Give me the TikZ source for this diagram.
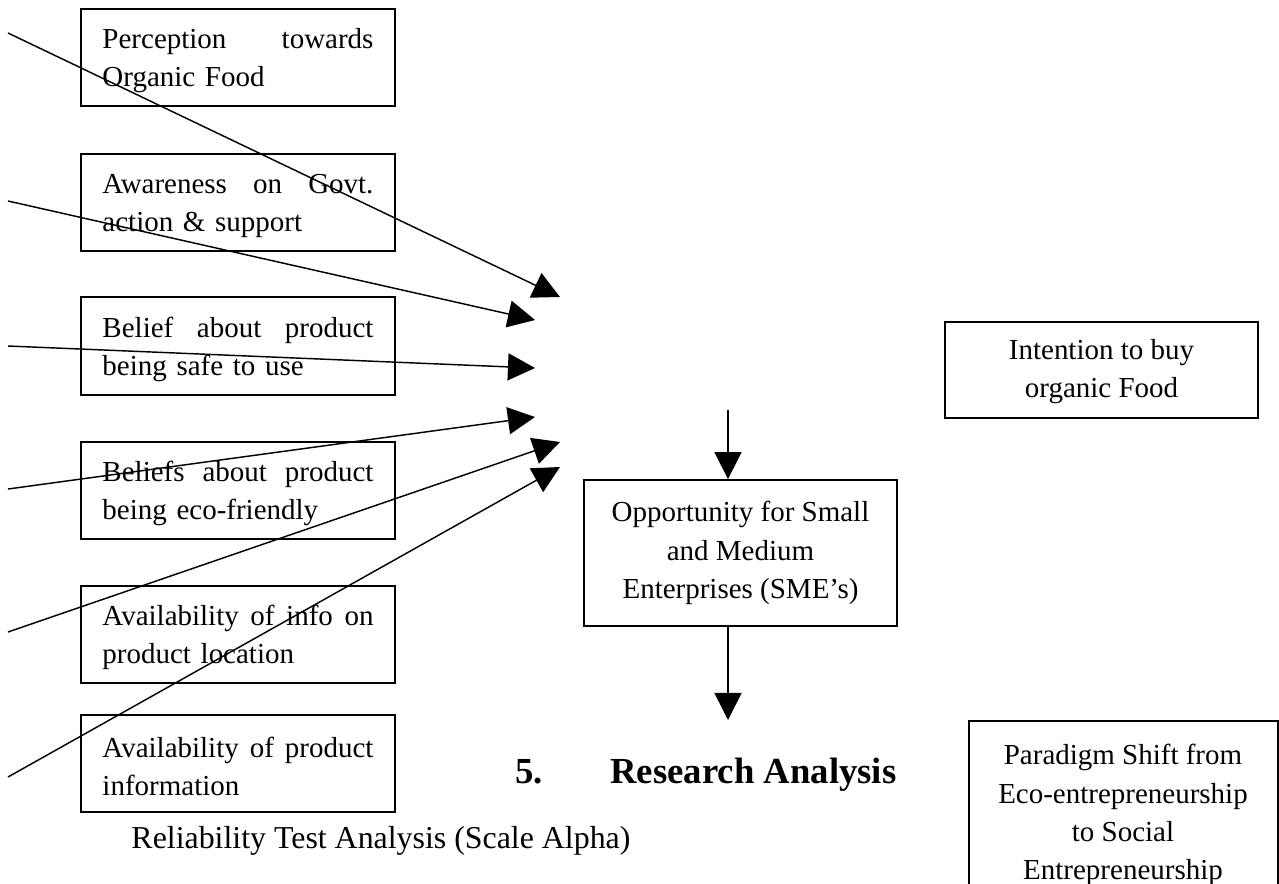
\documentclass[tikz,border=0pt]{standalone}
\usepackage{fontspec}
\setmainfont{Liberation Serif}
\usetikzlibrary{arrows.meta}
\newlength\lboxw \setlength\lboxw{112.2pt}
\newcommand\jl[1]{\hbox to \lboxw{\spaceskip=0.25em plus 1fil\relax #1}}
\begin{document}
\begin{tikzpicture}[x=0.414pt,y=-0.414pt,
  box/.style={draw,line width=0.8pt,inner sep=0pt},
  body/.style={font=\fontsize{12}{15.8}\selectfont},
  lbox/.style={box,body,minimum width=130pt,minimum height=40.2pt,text width=\lboxw,align=left},
  cbox/.style={box,body,minimum width=129.6pt,align=center},
  arr/.style={line width=0.6pt,-{Triangle[length=11.2pt,width=11.2pt]}},
  head/.style={font=\fontsize{15.2}{18}\selectfont\bfseries,inner sep=0pt}
]
\useasboundingbox (0,0) rectangle (1279,883);

% left boxes
\node[lbox] (b1) at (238,57.5) {\rule{0pt}{11pt}\jl{Perception towards}\\Organic Food};
\node[lbox] (b2) at (238,202.5) {\rule{0pt}{11pt}\jl{Awareness on Govt.}\\action \& support};
\node[lbox] (b3) at (238,346) {\rule{0pt}{11pt}\jl{Belief about product}\\being safe to use};
\node[lbox] (b4) at (238,490.5) {\rule{0pt}{11pt}\jl{Beliefs about product}\\being eco-friendly};
\node[lbox] (b5) at (238,634.5) {\rule{0pt}{11pt}\jl{Availability of info on}\\product location};
\node[lbox] (b6) at (238,763.5) {\rule{0pt}{11pt}\jl{Availability of product}\\information};

% arrow ends
\coordinate (s1) at (8,33);   \coordinate (t1) at (560,297);
\coordinate (s2) at (8,201);  \coordinate (t2) at (535,320);
\coordinate (s3) at (8,346);  \coordinate (t3) at (535,368);
\coordinate (s4) at (8,489);  \coordinate (t4) at (535,417);
\coordinate (s5) at (8,632);  \coordinate (t5) at (560,442);
\coordinate (s6) at (8,777);  \coordinate (t6) at (560,467);
\foreach \i in {1,...,6} \draw[arr] (s\i) -- (t\i);

% SME box
\node[cbox,minimum height=60.4pt] (sme) at (740.5,553)
  {Opportunity for Small\\and Medium\\Enterprises (SME’s)};
\coordinate (smein) at (728,410);
\coordinate (smeout) at (728,720);
\draw[arr] (smein) -- (smein |- sme.north);
\draw[arr] (smeout |- sme.south) -- (smeout);

% Intention box
\node[cbox,minimum height=39.7pt] (int) at (1101.5,370) {\rule{0pt}{9.5pt}Intention to buy\\organic Food};

% Paradigm box (open at the bottom)
\draw[line width=0.8pt] (969,890) -- (969,721) -- (1278,721) -- (1278,890);
\node[body,align=center,anchor=north,inner sep=0pt] (para) at (1123,744)
  {Paradigm Shift from\\Eco-entrepreneurship\\to Social\\Entrepreneurship};

% heading and caption
\node[head,anchor=base west] (hnum) at (515,783) {5.};
\node[head,anchor=base west] (htitle) at (610,783) {Research Analysis};
\node[font=\fontsize{13.2}{16}\selectfont,anchor=base west,inner sep=0pt] (rel) at (131,848) {Reliability Test Analysis (Scale Alpha)};
\end{tikzpicture}
\end{document}
